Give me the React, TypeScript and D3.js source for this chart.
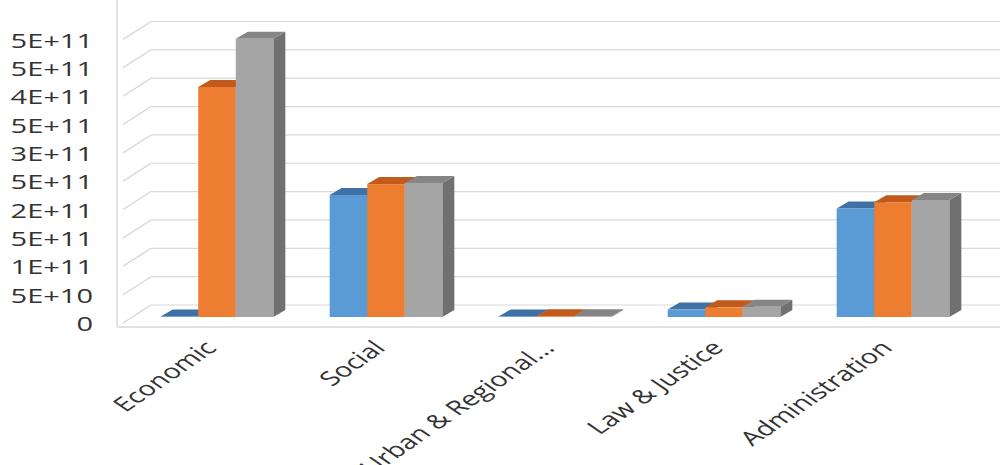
import React from "react";
import * as d3 from "d3";

// Sector budgets, three series per sector
const categories = ["Economic", "Social", "Urban & Regional...", "Law & Justice", "Administration"];
const seriesKeys = ["s1", "s2", "s3"];
const series1 = [1.0e9, 2.15e11, 1.0e9, 1.3e10, 1.91e11];
const series2 = [4.05e11, 2.34e11, 1.2e9, 1.7e10, 2.02e11];
const series3 = [4.9e11, 2.36e11, 1.2e9, 1.8e10, 2.06e11];
const tickValues = [0, 5e10, 1e11, 1.5e11, 2e11, 2.5e11, 3e11, 3.5e11, 4e11, 4.5e11, 5e11];
const tickLabels = ["0", "5E+10", "1E+11", "5E+11", "2E+11", "5E+11", "3E+11", "5E+11", "4E+11", "5E+11", "5E+11"];

const seriesValues = [series1, series2, series3];
const frontColors = ["#5b9bd5", "#ed7d31", "#a5a5a5"];
const topColors = ["#3f70a6", "#c25a1c", "#858585"];
const sideColors = ["#3b6898", "#b4541a", "#707070"];

const W = 1000;
const H = 465;

// Wall geometry (front edge of left wall, back wall, depth offset)
const wallFrontX = 123;
const wallBackX = 151;
const wallDy = -18;
const plotRight = 1000;

// Bar depth offset
const barDx = 12;
const barDy = -7;

const FONT = "'Open Sans', 'DejaVu Sans', sans-serif";
const STRETCH = 1.45;

export default function App() {
  const yBack = d3.scaleLinear().domain([0, 5e11]).range([305, 21.5]);
  const yFront = (v: number) => yBack(v) - wallDy;
  const yBar = d3.scaleLinear().domain([0, 5e11]).range([317, 33]);

  const x = d3
    .scaleBand<string>()
    .domain(categories)
    .range([132.5, 977.5])
    .paddingInner(1 / 3)
    .paddingOuter(1 / 6);
  const xInner = d3.scaleBand<string>().domain(seriesKeys).range([0, x.bandwidth()]);
  const bw = xInner.bandwidth();

  const bars: React.ReactNode[] = [];
  categories.forEach((cat, i) => {
    seriesKeys.forEach((key, j) => {
      const v = seriesValues[j][i];
      const x0 = (x(cat) as number) + (xInner(key) as number);
      const yT = yBar(v);
      const yB = yBar(0);
      const top = [
        [x0, yT],
        [x0 + bw, yT],
        [x0 + bw + barDx, yT + barDy],
        [x0 + barDx, yT + barDy],
      ];
      const side = [
        [x0 + bw, yT],
        [x0 + bw + barDx, yT + barDy],
        [x0 + bw + barDx, yB + barDy],
        [x0 + bw, yB],
      ];
      const pts = (p: number[][]) => p.map((q) => q.join(",")).join(" ");
      bars.push(
        <g key={`${cat}-${key}`}>
          <polygon points={pts(side)} fill={sideColors[j]} />
          <polygon points={pts(top)} fill={topColors[j]} />
          <rect x={x0} y={yT} width={bw} height={Math.max(0.5, yB - yT)} fill={frontColors[j]} />
        </g>
      );
    });
  });

  return (
    <svg
      width={W}
      height={H}
      style={{ position: "absolute", left: 0, top: 0, background: "#ffffff" }}
    >
      {/* plot area border */}
      <line x1={117} y1={0} x2={117} y2={327} stroke="#d9d9d9" strokeWidth={1.5} />
      <line x1={117} y1={327} x2={plotRight} y2={327} stroke="#d9d9d9" strokeWidth={1.5} />

      {/* gridlines: side wall diagonals and back wall */}
      {tickValues.map((v) => (
        <g key={`g${v}`}>
          <line
            x1={wallFrontX}
            y1={yFront(v)}
            x2={wallBackX}
            y2={yBack(v)}
            stroke="#d4d4d4"
            strokeWidth={1.2}
          />
          <line
            x1={wallBackX}
            y1={yBack(v)}
            x2={plotRight}
            y2={yBack(v)}
            stroke="#d9d9d9"
            strokeWidth={1.2}
          />
        </g>
      ))}

      {bars}

      {/* value axis labels */}
      {tickValues.map((v, i) => (
        <g key={`t${v}`} transform={`translate(93,${yFront(v)}) scale(${STRETCH},1)`}>
          <text
            textAnchor="end"
            dominantBaseline="central"
            fontFamily={FONT}
            fontSize={20}
            fill="#333333"
          >
            {tickLabels[i]}
          </text>
        </g>
      ))}

      {/* category labels */}
      {categories.map((cat) => {
        const cx = (x(cat) as number) + x.bandwidth() / 2;
        return (
          <g key={`c${cat}`} transform={`translate(${cx - 14},339) scale(${STRETCH},1) rotate(-45)`}>
            <text textAnchor="end" dy="0.72em" fontFamily={FONT} fontSize={20} fill="#333333">
              {cat}
            </text>
          </g>
        );
      })}
    </svg>
  );
}
